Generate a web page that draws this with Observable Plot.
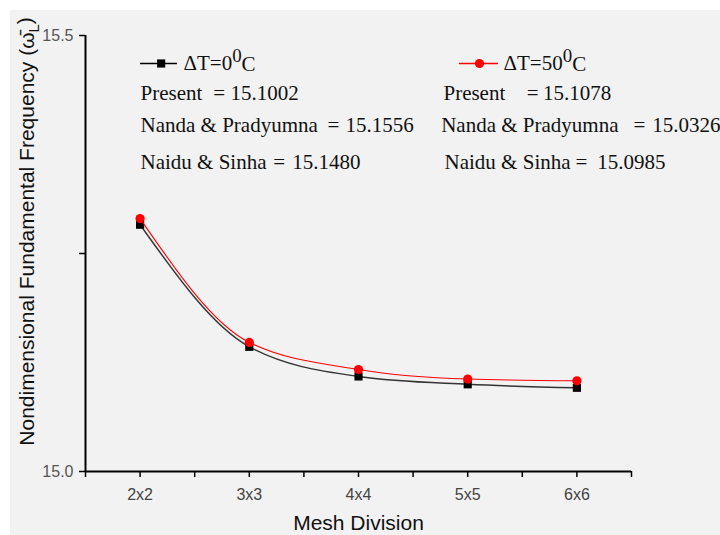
<!DOCTYPE html>
<html><head><meta charset="utf-8">
<script src="https://cdn.jsdelivr.net/npm/d3@7"></script>
<script src="https://cdn.jsdelivr.net/npm/@observablehq/plot@0.6"></script>
<style>
body{margin:0;background:#fff;}
#chart{position:absolute;left:10px;top:10px;width:710px;height:525px;overflow:hidden;background:#f2f2f2}
</style></head><body><div id="chart"></div>
<script>
// ---- data ----
const meshDivisions = ["2x2", "3x3", "4x4", "5x5", "6x6"];
const freqDT0 = [15.283, 15.143, 15.109, 15.100, 15.096];
const freqDT50 = [15.290, 15.148, 15.117, 15.106, 15.104];
const yTickValues = [15.0, 15.5];
const yMinorTickValues = [15.25];
const seriesLabels = ["ΔT=0^0C", "ΔT=50^0C"];
const noteNames = ["Present", "Nanda & Pradyumna", "Naidu & Sinha"];
const leftNoteValues = ["15.1002", "15.1556", "15.1480"];
const rightNoteValues = ["15.1078", "15.0326", "15.0985"];
const xTitle = "Mesh Division";
const yTitle = "Nondimensional Fundamental Frequency (ω\u0304_L)";

// ---- layout (annotation placement in data space) ----
const noteRowsY = [15.4679, 15.4335, 15.3968, 15.3547];
const leftCol = {lineX1: 1.004, lineX2: 1.342, markX: 1.193, labelX: 1.397,
  nameX: [1.004, 1.004, 1.004], eqX: [1.669, 2.716, 2.219], valX: [1.828, 2.881, 2.393]};
const rightCol = {lineX1: 3.925, lineX2: 4.282, markX: 4.108, labelX: 4.328,
  nameX: [3.778, 3.757, 3.788], eqX: [4.540, 5.518, 4.987], valX: [4.690, 5.690, 5.186]};

const xPos = meshDivisions.map((d, i) => i + 1);
const xMinor = d3.range(0.5, meshDivisions.length + 1, 1);
const s0 = meshDivisions.map((d, i) => ({x: i + 1, y: freqDT0[i]}));
const s50 = meshDivisions.map((d, i) => ({x: i + 1, y: freqDT50[i]}));

const serif = "Liberation Serif, Times New Roman, serif";
const notes = [];
[[leftCol, leftNoteValues], [rightCol, rightNoteValues]].forEach(([col, vals]) => {
  noteNames.forEach((n, i) => {
    notes.push({x: col.nameX[i], y: noteRowsY[i + 1], t: n});
    notes.push({x: col.eqX[i], y: noteRowsY[i + 1], t: "="});
    notes.push({x: col.valX[i], y: noteRowsY[i + 1], t: vals[i]});
  });
});
notes.push({x: leftCol.labelX, y: noteRowsY[0], t: seriesLabels[0]});
notes.push({x: rightCol.labelX, y: noteRowsY[0], t: seriesLabels[1]});

const plot = Plot.plot({
  width: 710, height: 525,
  marginLeft: 75, marginRight: 89, marginTop: 25, marginBottom: 64,
  style: {background: "#f2f2f2", fontFamily: "Liberation Sans, Arial, sans-serif", fontSize: "16px", overflow: "hidden"},
  x: {domain: [0.5, 5.5]},
  y: {domain: [15.0, 15.5]},
  marks: [
    Plot.axisX({ticks: xMinor, tickFormat: () => "", tickSize: 6, stroke: "#000", strokeWidth: 1.5, label: null}),
    Plot.axisX({ticks: xPos, tickFormat: v => meshDivisions[v - 1], tickSize: 6, tickPadding: 11, stroke: "#000", strokeWidth: 1.5, fill: "#444", fontSize: 16, label: null}),
    Plot.axisY({ticks: yMinorTickValues, tickFormat: () => "", tickSize: 6, stroke: "#000", strokeWidth: 1.5, label: null}),
    Plot.axisY({ticks: yTickValues, tickFormat: d3.format(".1f"), tickSize: 6, tickPadding: 6, stroke: "#000", strokeWidth: 1.5, fill: "#555", fontSize: 16, label: null}),
    Plot.ruleY([15.0], {stroke: "#000", strokeWidth: 2}),
    Plot.ruleX([0.5], {stroke: "#000", strokeWidth: 2}),
    Plot.line(s0, {x: "x", y: "y", curve: "monotone-x", stroke: "#333", strokeWidth: 1.4}),
    Plot.dot(s0, {x: "x", y: "y", symbol: "square", r: 4.6, fill: "#000", stroke: "none"}),
    Plot.line(s50, {x: "x", y: "y", curve: "monotone-x", stroke: "#ff0000", strokeWidth: 1.1}),
    Plot.dot(s50, {x: "x", y: "y", symbol: "circle", r: 4.6, fill: "#ff0000", stroke: "none"}),
    // legend symbols
    Plot.ruleY([noteRowsY[0]], {x1: leftCol.lineX1, x2: leftCol.lineX2, stroke: "#000", strokeWidth: 1.3}),
    Plot.dot([{x: leftCol.markX, y: noteRowsY[0]}], {x: "x", y: "y", symbol: "square", r: 4.6, fill: "#000", stroke: "none"}),
    Plot.ruleY([noteRowsY[0]], {x1: rightCol.lineX1, x2: rightCol.lineX2, stroke: "#ff0000", strokeWidth: 1.3}),
    Plot.dot([{x: rightCol.markX, y: noteRowsY[0]}], {x: "x", y: "y", symbol: "circle", r: 4.6, fill: "#ff0000", stroke: "none"}),
    Plot.text(notes, {x: "x", y: "y", text: "t", textAnchor: "start", lineAnchor: "middle", fontFamily: serif, fontSize: 21, fill: "#111"}),
    // axis titles
    Plot.text([xTitle], {frameAnchor: "bottom", lineAnchor: "middle", dy: 52, fontSize: 21, fill: "#111"}),
    Plot.text([yTitle], {frameAnchor: "left", rotate: -90, textAnchor: "middle", lineAnchor: "middle", dx: -58, dy: -22, fontSize: 21, fill: "#111"})
  ]
});

// rich text: superscripts / subscripts
d3.select(plot).selectAll("text").each(function() {
  const el = this;
  const s = el.textContent;
  if (s.includes("^")) {
    const [a, rest] = s.split("^");
    el.textContent = "";
    const sel = d3.select(el);
    sel.append("tspan").text(a);
    sel.append("tspan").attr("dy", "-0.45em").attr("font-size", "0.9em").text(rest[0]);
    sel.append("tspan").attr("dy", "0.45em").text(rest.slice(1));
  } else if (s.includes("_")) {
    const [a, rest] = s.split("_");
    el.textContent = "";
    const sel = d3.select(el);
    sel.append("tspan").text(a);
    sel.append("tspan").attr("dy", "0.3em").attr("font-size", "0.7em").text(rest[0]);
    sel.append("tspan").attr("dy", "-0.3em").text(rest.slice(1));
  }
});

document.getElementById("chart").appendChild(plot);
</script></body></html>
